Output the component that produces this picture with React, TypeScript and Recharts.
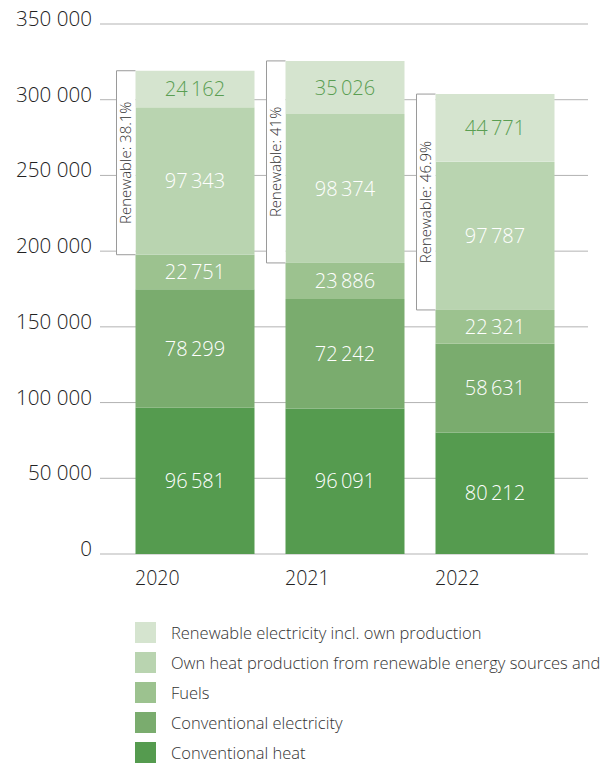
import React from 'react';
import { BarChart, Bar, XAxis, YAxis, CartesianGrid, LabelList } from 'recharts';

const years = ['2020', '2021', '2022'];
const conventionalHeat = [96581, 96091, 80212];
const conventionalElectricity = [78299, 72242, 58631];
const fuels = [22751, 23886, 22321];
const ownHeatRenewable = [97343, 98374, 97787];
const renewableElectricity = [24162, 35026, 44771];
const renewableShare = ['38.1%', '41%', '46.9%'];
const yTicks = [0, 50000, 100000, 150000, 200000, 250000, 300000, 350000];

const legendItems = [
  { name: 'Renewable electricity incl. own production', color: '#d5e4cf' },
  { name: 'Own heat production from renewable energy sources and', color: '#b9d4b0' },
  { name: 'Fuels', color: '#9cc28f' },
  { name: 'Conventional electricity', color: '#7aac6e' },
  { name: 'Conventional heat', color: '#559b4f' },
];

const data = years.map((year, i) => ({
  year,
  convHeat: conventionalHeat[i],
  convElec: conventionalElectricity[i],
  fuels: fuels[i],
  ownHeat: ownHeatRenewable[i],
  renElec: renewableElectricity[i],
  share: renewableShare[i],
}));

const FONT = '"Open Sans", "Noto Sans", sans-serif';
const WEIGHT = 300;
const fmtValue = (v: number) => String(v).replace(/\B(?=(\d{3})+(?!\d))/g, '\u2009');
const fmtTick = (v: number) => String(v).replace(/\B(?=(\d{3})+(?!\d))/g, ' ');

const makeLabel = (color: string) => (props: any) => {
  const vb = props.viewBox || props;
  const x = vb.x ?? props.x;
  const y = vb.y ?? props.y;
  const w = vb.width ?? props.width;
  const h = vb.height ?? props.height;
  return (
    <text x={x + w / 2} y={y + h / 2} dy="0.36em" textAnchor="middle" fill={color} fontSize={20} fontWeight={WEIGHT} fontFamily={FONT}>
      {fmtValue(props.value)}
    </text>
  );
};

const OwnHeatShape = (props: any) => {
  const { x, y, width, height, fill, payload } = props;
  const perUnit = height / payload.ownHeat;
  const top = y - payload.renElec * perUnit;
  const bottom = y + height;
  const bw = 19;
  return (
    <g>
      <rect x={x} y={y} width={width} height={height} fill={fill} />
      <path d={`M${x},${top} H${x - bw} V${bottom} H${x}`} fill="#fff" stroke="#9a9a9a" strokeWidth={1} />
      <text
        transform={`translate(${x - bw / 2 + 5},${(top + bottom) / 2}) rotate(-90)`}
        textAnchor="middle"
        fontSize={15}
        fontWeight={WEIGHT}
        fill="#333"
        fontFamily={FONT}
      >
        {`Renewable: ${payload.share}`}
      </text>
    </g>
  );
};

const XTick = (props: any) => {
  const { x, y, payload } = props;
  return (
    <text x={x - 59.5} y={y + 31} textAnchor="start" fontSize={19.5} fontWeight={WEIGHT} fill="#222" fontFamily={FONT}>
      {payload.value}
    </text>
  );
};

const YTick = (props: any) => {
  const { x, y, payload } = props;
  return (
    <text x={x} y={y + 2} textAnchor="end" fontSize={20.6} fontWeight={WEIGHT} fill="#222" fontFamily={FONT}>
      {fmtTick(payload.value)}
    </text>
  );
};

export default function App() {
  return (
    <div style={{ position: 'absolute', left: 0, top: 0, width: 608, height: 764, background: '#fff' }}>
      <BarChart width={608} height={764} data={data} margin={{ top: 24, right: 20, left: 0, bottom: 170 }}>
        <CartesianGrid vertical={false} stroke="#b3b3b3" />
        <XAxis
          dataKey="year"
          axisLine={false}
          tickLine={false}
          tickSize={0}
          tickMargin={0}
          height={40}
          padding={{ left: 19.5, right: 18.5 }}
          tick={<XTick />}
        />
        <YAxis
          width={100}
          domain={[0, 350000]}
          ticks={yTicks}
          axisLine={false}
          tickLine={false}
          tickSize={0}
          tickMargin={8}
          tick={<YTick />}
        />
        <Bar dataKey="convHeat" stackId="a" fill="#559b4f" barSize={119} isAnimationActive={false}>
          <LabelList dataKey="convHeat" content={makeLabel('#ffffff')} />
        </Bar>
        <Bar dataKey="convElec" stackId="a" fill="#7aac6e" barSize={119} isAnimationActive={false}>
          <LabelList dataKey="convElec" content={makeLabel('#ffffff')} />
        </Bar>
        <Bar dataKey="fuels" stackId="a" fill="#9cc28f" barSize={119} isAnimationActive={false}>
          <LabelList dataKey="fuels" content={makeLabel('#ffffff')} />
        </Bar>
        <Bar dataKey="ownHeat" stackId="a" fill="#b9d4b0" barSize={119} isAnimationActive={false} shape={<OwnHeatShape />}>
          <LabelList dataKey="ownHeat" content={makeLabel('#ffffff')} />
        </Bar>
        <Bar dataKey="renElec" stackId="a" fill="#d5e4cf" barSize={119} isAnimationActive={false}>
          <LabelList dataKey="renElec" content={makeLabel('#5a9e52')} />
        </Bar>
      </BarChart>
      <div style={{ position: 'absolute', left: 135, top: 622, fontFamily: FONT, fontWeight: WEIGHT, fontSize: 16.5, color: '#333', whiteSpace: 'nowrap' }}>
        {legendItems.map((it) => (
          <div key={it.name} style={{ display: 'flex', alignItems: 'center', height: 30 }}>
            <div style={{ width: 21, height: 21, background: it.color, marginRight: 15, marginTop: -9 }} />
            <span style={{ marginTop: -9 }}>{it.name}</span>
          </div>
        ))}
      </div>
    </div>
  );
}
